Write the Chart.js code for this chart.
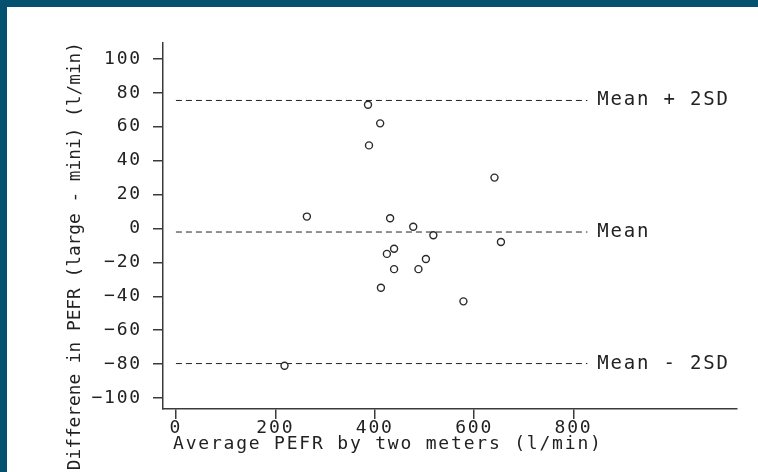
<!DOCTYPE html>
<html>
<head>
<meta charset="utf-8">
<script src="https://cdn.jsdelivr.net/npm/chart.js@4"></script>
<style>
  html, body { margin: 0; padding: 0; background: #03506f; }
  #wrap { position: absolute; left: 7px; top: 7px; width: 751px; height: 465px; background: #fff; }
</style>
</head>
<body>
<div id="wrap"><canvas id="baChart"></canvas></div>
<script>
// Bland-Altman: large Wright vs mini Wright peak flow meter
const avgPefr = [503, 412.5, 518, 431, 488, 578.5, 388.5, 411, 654, 439, 424.5, 641, 263.5, 477.5, 218.5, 386.5, 439];
const diffPefr = [-18, -35, -4, 6, -24, -43, 49, 62, -8, -12, -15, 30, 7, 1, -81, 73, -24];

const refValues = [75.5, -2.1, -79.7];
const refLabels = ["Mean + 2SD", "Mean", "Mean - 2SD"];
const refSpan = [0, 828];   // x range of the dashed lines
const refLabelAt = 848;     // x value where the labels start

const xTicks = [0, 200, 400, 600, 800];
const yTicks = [-100, -80, -60, -40, -20, 0, 20, 40, 60, 80, 100];

const xTitle = "Average PEFR by two meters (l/min)";
const yTitle = "Differene in PEFR (large - mini) (l/min)";

const FONT = '"DejaVu Sans Mono", "Liberation Mono", monospace';
const INK = "#222";
const AXIS = "#3a3a3a";

const refText = {
  id: "refText",
  beforeDraw(chart) {
    chart.ctx.letterSpacing = "1.8px";
  },
  afterDatasetsDraw(chart) {
    const { ctx, chartArea, scales: { x, y } } = chart;
    ctx.save();
    ctx.letterSpacing = "1.8px";
    ctx.fillStyle = INK;
    ctx.textAlign = "left";
    ctx.textBaseline = "middle";
    ctx.font = "19px " + FONT;
    refValues.forEach((v, i) => {
      ctx.fillText(refLabels[i], x.getPixelForValue(refLabelAt), y.getPixelForValue(v));
    });
    // x axis title sits left of centre in the original
    ctx.font = "18px " + FONT;
    ctx.fillText(xTitle, chartArea.left + 10, chartArea.bottom + 35);

    // y axis title: top-aligned, runs off the bottom edge
    ctx.letterSpacing = "0px";
    ctx.font = "17.8px " + FONT;
    ctx.translate(68, chartArea.top - 1);
    ctx.rotate(-Math.PI / 2);
    ctx.textAlign = "right";
    ctx.fillText(yTitle, 0, 0);
    ctx.restore();
  }
};

const refDatasets = refValues.map(v => ({
  type: "line",
  data: refSpan.map(x => ({ x, y: v })),
  borderColor: INK,
  borderWidth: 1,
  borderDash: [6, 4],
  pointRadius: 0,
  order: 2
}));

const tickFmt = v => String(v).replace("-", "\u2212");

new Chart(document.getElementById("baChart"), {
  type: "scatter",
  data: {
    datasets: [
      {
        data: avgPefr.map((a, i) => ({ x: a, y: diffPefr[i] })),
        pointRadius: 3.5,
        pointBorderWidth: 1.4,
        pointBorderColor: "#2a2a2a",
        pointBackgroundColor: "#fff",
        order: 1
      },
      ...refDatasets
    ]
  },
  options: {
    responsive: true,
    maintainAspectRatio: false,
    animation: false,
    layout: { padding: { top: 36, right: 21, left: 0, bottom: 0 } },
    plugins: { legend: { display: false }, tooltip: { enabled: false } },
    scales: {
      x: {
        type: "linear",
        min: -26,
        max: 1129,
        afterBuildTicks: s => { s.ticks = xTicks.map(value => ({ value })); },
        afterFit: s => { s.height = 63; },
        border: { color: AXIS, width: 1.5 },
        grid: { drawOnChartArea: false, tickLength: 10, tickColor: AXIS, lineWidth: 1.5 },
        ticks: { font: { family: FONT, size: 18, lineHeight: 1 }, color: INK, padding: 0, callback: tickFmt }
      },
      y: {
        type: "linear",
        min: -106.5,
        max: 109.4,
        afterBuildTicks: s => { s.ticks = yTicks.map(value => ({ value })); },
        afterFit: s => { s.width = 156; },
        border: { color: AXIS, width: 1.5 },
        grid: { drawOnChartArea: false, tickLength: 10, tickColor: AXIS, lineWidth: 1.5 },
        ticks: { font: { family: FONT, size: 18 }, color: INK, padding: 11, callback: tickFmt }
      }
    }
  },
  plugins: [refText]
});
</script>
</body>
</html>
